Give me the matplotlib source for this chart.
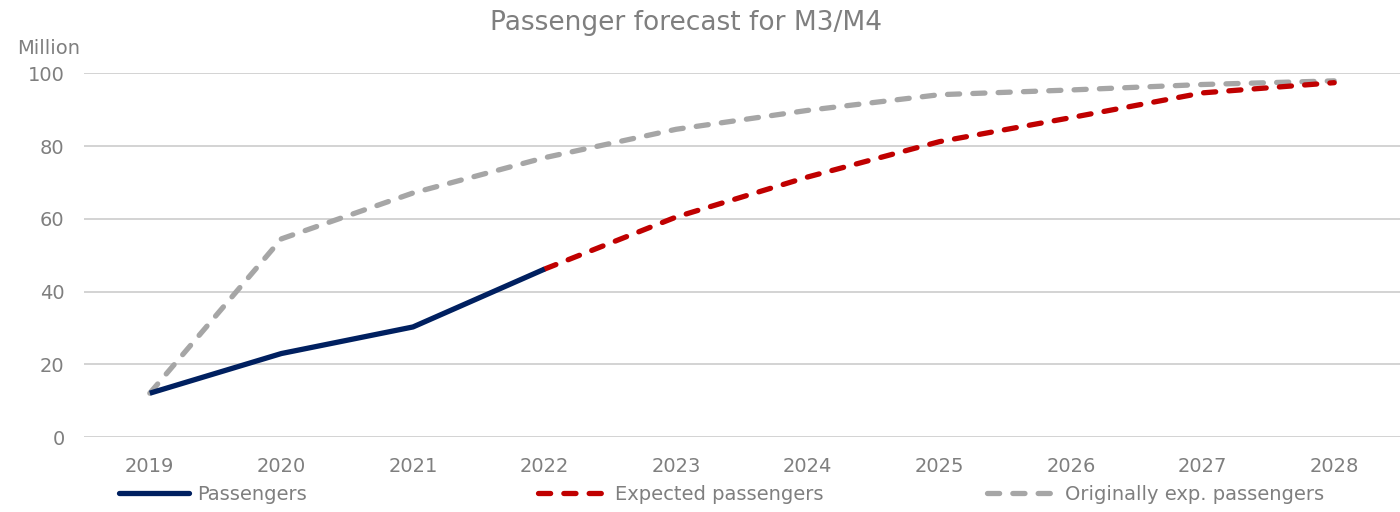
import matplotlib.pyplot as plt
from matplotlib.lines import Line2D

plt.rcParams['font.family'] = ['DejaVu Sans']

years = ['2019', '2020', '2021', '2022', '2023', '2024', '2025', '2026', '2027', '2028']
passengers = [12.1, 23.0, 30.3, 46.2]
expected = [46.2, 60.5, 71.5, 81.2, 87.8, 94.6, 97.4]
original = [12.1, 54.5, 67.1, 76.8, 84.6, 89.8, 94.1, 95.4, 96.9, 97.9]

c_pass = '#002060'
c_exp = '#C00000'
c_orig = '#A6A6A6'
c_text = '#7F7F7F'
dash = (0, (2.3, 2.5))
lw = 3.8

fig = plt.figure(figsize=(14, 5.12), dpi=100)
ax = fig.add_axes([0.06, 0.146, 0.94, 0.711])

x = list(range(len(years)))
ax.plot(x, original, color=c_orig, lw=lw, ls=dash, dash_capstyle='round', zorder=2)
ax.plot(x[3:], expected, color=c_exp, lw=lw, ls=dash, dash_capstyle='round', zorder=3)
ax.plot(x[:4], passengers, color=c_pass, lw=lw, solid_capstyle='butt',
        solid_joinstyle='round', zorder=4)

ax.set_xlim(-0.5, len(years) - 0.5)
ax.set_ylim(0, 100)
ax.set_yticks(range(0, 101, 20))
ax.set_xticks(x)
ax.set_xticklabels(years)
ax.grid(axis='y', color='#D0D0D0', lw=1.3)
ax.set_axisbelow(True)
for s in ax.spines.values():
    s.set_visible(False)
ax.tick_params(length=0, labelsize=14, labelcolor=c_text)
ax.tick_params(axis='y', pad=14)
ax.tick_params(axis='x', pad=14)

fig.text(0.49, 0.955, 'Passenger forecast for M3/M4', ha='center', va='center',
         fontsize=19, color=c_text)
fig.text(0.012, 0.905, 'Million', ha='left', va='center', fontsize=14, color=c_text)

entries = [
    (Line2D([], [], color=c_pass, lw=lw, solid_capstyle='round'), 'Passengers', 0.085),
    (Line2D([], [], color=c_exp, lw=lw, ls=dash, dash_capstyle='round'), 'Expected passengers', 0.384),
    (Line2D([], [], color=c_orig, lw=lw, ls=dash, dash_capstyle='round'), 'Originally exp. passengers', 0.705),
]
for h, lab, xpos in entries:
    lg = fig.legend([h], [lab], loc='center left', bbox_to_anchor=(xpos, 0.035),
                    frameon=False, fontsize=14, handlelength=3.6, handletextpad=0.4,
                    borderaxespad=0, borderpad=0)
    for t in lg.get_texts():
        t.set_color(c_text)

fig.savefig('out.png', dpi=100)
